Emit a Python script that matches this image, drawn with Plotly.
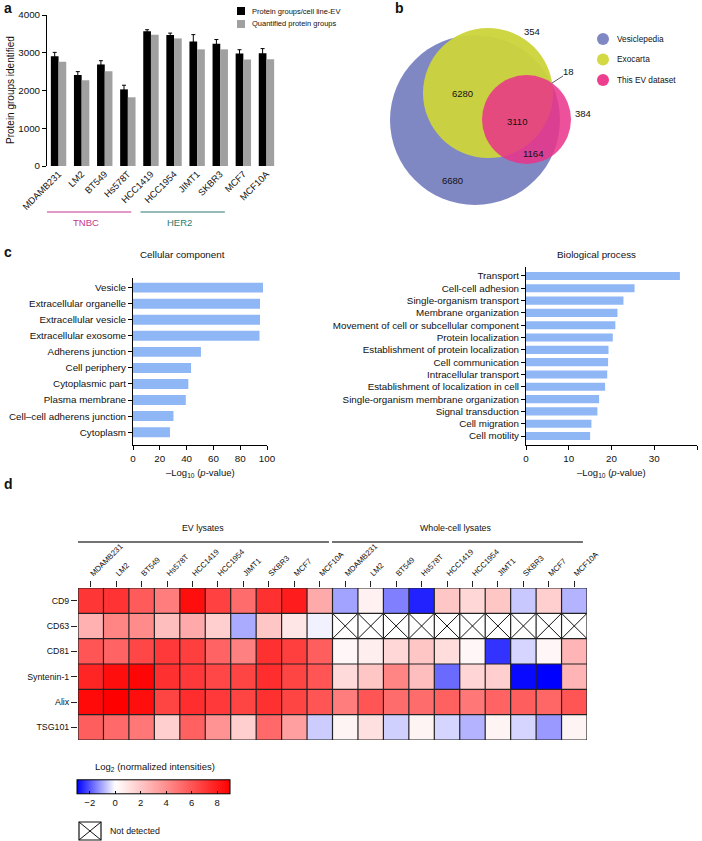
import plotly.graph_objects as go

W, H = 702, 841
def X(px): return px / W
def Y(py): return 1 - py / H

FONT = "Liberation Sans, Arial, sans-serif"

# ---------------- data ----------------
cell_lines = ["MDAMB231", "LM2", "BT549", "Hs578T", "HCC1419", "HCC1954", "JIMT1", "SKBR3", "MCF7", "MCF10A"]
protein_groups = [2910, 2410, 2690, 2030, 3570, 3470, 3300, 3240, 2980, 2990]
protein_groups_err = [100, 90, 100, 110, 40, 50, 180, 110, 100, 120]
quantified_groups = [2760, 2270, 2510, 1820, 3480, 3380, 3090, 3090, 2820, 2830]

venn_sets = ["Vesiclepedia", "Exocarta", "This EV dataset"]
venn_counts = {"V": 6680, "VE": 6280, "E": 354, "VEH": 3110, "VH": 1164, "EH": 18, "H": 384}

cc_terms = ["Vesicle", "Extracellular organelle", "Extracellular vesicle", "Extracellular exosome",
            "Adherens junction", "Cell periphery", "Cytoplasmic part", "Plasma membrane",
            "Cell\u2013cell adherens junction", "Cytoplasm"]
cc_values = [97, 94.8, 94.8, 94.4, 50.7, 43.3, 41.3, 39.4, 30.2, 27.6]

bp_terms = ["Transport", "Cell-cell adhesion", "Single-organism transport", "Membrane organization",
            "Movement of cell or subcellular component", "Protein localization",
            "Establishment of protein localization", "Cell communication", "Intracellular transport",
            "Establishment of localization in cell", "Single-organism membrane organization",
            "Signal transduction", "Cell migration", "Cell motility"]
bp_values = [36.0, 25.4, 22.8, 21.4, 20.9, 20.3, 19.3, 19.2, 19.0, 18.5, 17.1, 16.7, 15.3, 15.0]

markers = ["CD9", "CD63", "CD81", "Syntenin-1", "Alix", "TSG101"]
heat_columns = cell_lines + cell_lines
N = None
heat_values = [
    # EV lysates ........................................... | whole-cell lysates .....................................
    [7.1, 7.2, 5.8, 4.6, 8.5, 6.7, 5.2, 7.3, 8.0, 3.0,   -1.1, 0.5, -1.5, -2.6, 2.0, 1.4, 2.0, -0.65, 1.7, -0.9],
    [2.8, 4.3, 4.1, 2.3, 3.0, 1.7, -1.0, 2.0, 0.9, -0.15, N, N, N, N, N, N, N, N, N, N],
    [6.0, 5.5, 6.5, 7.0, 6.8, 5.5, 4.5, 7.3, 6.8, 5.7,   0.3, 0.6, 1.4, 2.0, 1.2, 0.3, -2.4, -0.5, 0.3, 2.6],
    [7.7, 8.5, 8.8, 7.3, 7.0, 6.5, 6.6, 7.4, 6.6, 6.0,   1.3, 2.0, 4.3, 2.3, -1.75, 1.5, 1.7, -2.9, -3.0, 2.6],
    [8.7, 9.0, 8.5, 6.6, 7.4, 7.0, 6.6, 7.3, 6.6, 6.0,   4.6, 6.0, 5.2, 5.2, 5.6, 4.8, 5.5, 5.7, 5.4, 6.0],
    [5.7, 5.3, 4.8, 1.7, 5.6, 3.8, 1.7, 5.3, 3.4, -0.6,  0.4, 1.1, -0.55, 0.4, -0.5, -0.9, 0.4, -0.5, -1.2, 0.4],
]
cbar_ticks = [-2, 0, 2, 4, 6, 8]

# ---------------- figure ----------------
fig = go.Figure()

# panel a
fig.add_trace(go.Bar(x=list(range(len(cell_lines))), y=protein_groups, name="Protein groups/cell line-EV",
                     marker=dict(color="#000000", line=dict(width=0)),
                     error_y=dict(type="data", array=protein_groups_err, color="#000000", thickness=1, width=2),
                     xaxis="x", yaxis="y", showlegend=False))
fig.add_trace(go.Bar(x=list(range(len(cell_lines))), y=quantified_groups, name="Quantified protein groups",
                     marker=dict(color="#a0a0a0", line=dict(width=0)),
                     xaxis="x", yaxis="y", showlegend=False))

# panel c
fig.add_trace(go.Bar(y=list(range(len(cc_terms))), x=cc_values, orientation="h", width=0.62,
                     marker=dict(color="#8fb6f5", line=dict(width=0)), xaxis="x3", yaxis="y3", showlegend=False))
fig.add_trace(go.Bar(y=list(range(len(bp_terms))), x=bp_values, orientation="h", width=0.66,
                     marker=dict(color="#8fb6f5", line=dict(width=0)), xaxis="x4", yaxis="y4", showlegend=False))

# panel d heatmap
fig.add_trace(go.Heatmap(z=heat_values, x=list(range(len(heat_columns))), y=list(range(len(markers))),
                         zmin=-3, zmax=9,
                         colorscale=[[0, "#0000ff"], [0.25, "#ffffff"], [1, "#ff0000"]],
                         xaxis="x5", yaxis="y5", hoverongaps=False,
                         colorbar=dict(orientation="h", x=X(153.5), xanchor="center", y=Y(796), yanchor="middle",
                                       len=153, lenmode="pixels", thickness=14, thicknessmode="pixels",
                                       xpad=0, ypad=0, outlinewidth=1, outlinecolor="#000",
                                       tickvals=cbar_ticks, ticks="inside", ticklen=3, tickcolor="#000",
                                       tickfont=dict(size=9.5, family=FONT, color="#111"))))

# X marks for not-detected cells (from data)
xs, ys = [], []
for r, row in enumerate(heat_values):
    for c, v in enumerate(row):
        if v is None:
            xs += [c - 0.5, c + 0.5, None, c - 0.5, c + 0.5, None]
            ys += [r - 0.5, r + 0.5, None, r + 0.5, r - 0.5, None]
fig.add_trace(go.Scatter(x=xs, y=ys, mode="lines", line=dict(color="#111", width=1),
                         xaxis="x5", yaxis="y5", showlegend=False, hoverinfo="skip"))

axis_common = dict(showline=True, linecolor="#000", linewidth=1, ticks="outside", ticklen=4, tickwidth=1,
                   tickcolor="#000", showgrid=False, zeroline=False, automargin=False,
                   tickfont=dict(size=9.8, family=FONT, color="#111"))

fig.update_layout(
    template="none",
    width=W, height=H, margin=dict(l=0, r=0, t=0, b=0, pad=0, autoexpand=False),
    paper_bgcolor="white", plot_bgcolor="white",
    font=dict(family=FONT, size=9, color="#111"),
    barmode="group", bargap=0.333, bargroupgap=0,
    xaxis=dict(domain=[X(47), X(278)], range=[-0.5, 9.5], tickvals=list(range(10)), ticktext=cell_lines,
               tickangle=-45, anchor="y",
               **{**axis_common, "showline": False, "ticks": "",
                  "tickfont": dict(size=9.3, family=FONT, color="#111")}),
    yaxis=dict(domain=[Y(166), Y(15)], range=[0, 4000], tickvals=[0, 1000, 2000, 3000, 4000], anchor="x",
               **axis_common),
    xaxis2=dict(domain=[X(380), X(702)], range=[380, 702], visible=False, anchor="y2", automargin=False),
    yaxis2=dict(domain=[Y(215), Y(0)], range=[215, 0], visible=False, anchor="x2", automargin=False),
    xaxis3=dict(domain=[X(133), X(267)], range=[0, 100], tickvals=[0, 20, 40, 60, 80, 100], anchor="y3",
                **axis_common),
    yaxis3=dict(domain=[Y(445), Y(278)], range=[9.8, -0.6], tickvals=list(range(len(cc_terms))),
                ticktext=cc_terms, anchor="x3", **axis_common),
    xaxis4=dict(domain=[X(526), X(697)], range=[0, 40], tickvals=[0, 10, 20, 30, 40], anchor="y4",
                **axis_common),
    yaxis4=dict(domain=[Y(445), Y(267)], range=[13.73, -0.73], tickvals=list(range(len(bp_terms))),
                ticktext=bp_terms, anchor="x4", **axis_common),
    xaxis5=dict(domain=[X(78), X(587)], range=[-0.5, 19.5], side="top", tickvals=list(range(20)),
                ticktext=heat_columns, tickangle=-45, ticks="outside", ticklen=6, tickcolor="#222",
                showline=False, showgrid=False, zeroline=False, anchor="y5", automargin=False,
                tickfont=dict(size=7.8, family=FONT, color="#111")),
    yaxis5=dict(domain=[Y(740), Y(588)], range=[5.5, -0.5], tickvals=list(range(6)), ticktext=markers,
                ticks="outside", ticklen=6, tickcolor="#222", showline=False, showgrid=False, zeroline=False,
                anchor="x5", automargin=False, tickfont=dict(size=8.8, family=FONT, color="#111")),
)

shapes = []
ann = []

def text(x, y, t, size=9, xanchor="center", yanchor="middle", color="#111", angle=0, bold=False):
    ann.append(dict(x=X(x), y=Y(y), xref="paper", yref="paper", text=(f"<b>{t}</b>" if bold else t),
                    showarrow=False, xanchor=xanchor, yanchor=yanchor, textangle=angle,
                    font=dict(size=size, family=FONT, color=color)))

# panel labels
text(2, 8, "a", 14, "left", bold=True)
text(393, 8, "b", 14, "left", bold=True)
text(2, 252, "c", 14, "left", bold=True)
text(2, 484, "d", 14, "left", bold=True)

# panel a extras
text(10, 90, "Protein groups identified", 10, angle=-90)
shapes.append(dict(type="rect", xref="paper", yref="paper", x0=X(237), x1=X(245), y0=Y(15), y1=Y(7),
                   fillcolor="#000", line=dict(width=0)))
text(250, 11, "Protein groups/cell line-EV", 7.5, "left")
shapes.append(dict(type="rect", xref="paper", yref="paper", x0=X(237), x1=X(245), y0=Y(28), y1=Y(20),
                   fillcolor="#a0a0a0", line=dict(width=0)))
text(250, 24, "Quantified protein groups", 7.5, "left")
shapes.append(dict(type="line", xref="x", yref="paper", x0=-0.5, x1=3.15, y0=Y(212), y1=Y(212),
                   line=dict(color="#c8348e", width=1.2)))
text(86, 223, "TNBC", 9.5, color="#c8348e")
shapes.append(dict(type="line", xref="x", yref="paper", x0=3.55, x1=7.2, y0=Y(212), y1=Y(212),
                   line=dict(color="#2b7a70", width=1.2)))
text(180, 223, "HER2", 9.5, color="#2b7a70")

# panel b venn (layout geometry in px units of xaxis2/yaxis2)
def circle(cx, cy, r, color, op):
    shapes.append(dict(type="circle", xref="x2", yref="y2", x0=cx - r, x1=cx + r, y0=cy - r, y1=cy + r,
                       fillcolor=color, opacity=op, line=dict(width=0)))
circle(475, 120, 85, "#8088c4", 1.0)
circle(488, 93, 65, "#ccd43c", 0.96)
circle(526.5, 119.5, 44.5, "#ea3289", 0.85)
text(452, 180, f"{venn_counts['V']}", 9.5)
text(462, 93, f"{venn_counts['VE']}", 9.5)
text(532, 32, f"{venn_counts['E']}", 9.5)
text(517, 121, f"{venn_counts['VEH']}", 9.5)
text(533, 153, f"{venn_counts['VH']}", 9.5)
text(568, 71, f"{venn_counts['EH']}", 9.5)
text(583, 114, f"{venn_counts['H']}", 9.5)
shapes.append(dict(type="line", xref="paper", yref="paper", x0=X(552), y0=Y(83), x1=X(563), y1=Y(76),
                   line=dict(color="#333", width=0.8)))
for i, (name, col) in enumerate(zip(venn_sets, ["#8088c4", "#d2d942", "#ec3f8e"])):
    cy = 39 + i * 20.5
    shapes.append(dict(type="circle", xref="paper", yref="paper", x0=X(597), x1=X(609), y0=Y(cy + 6),
                       y1=Y(cy - 6), fillcolor=col, line=dict(width=0)))
    text(615, cy, name, 8.3, "left")

# panel c titles
text(182, 255, "Cellular component", 9.8)
text(596, 255, "Biological process", 9.8)
text(200, 473, "\u2013Log<sub>10</sub> (<i>p</i>-value)", 9.5)
text(611, 473, "\u2013Log<sub>10</sub> (<i>p</i>-value)", 9.5)

# panel d group headers
text(203, 528, "EV lysates", 8.8)
text(455, 528, "Whole-cell lysates", 8.8)
shapes.append(dict(type="line", xref="x5", yref="paper", x0=-0.58, x1=9.36, y0=Y(542), y1=Y(542),
                   line=dict(color="#444", width=1.3)))
shapes.append(dict(type="line", xref="x5", yref="paper", x0=9.48, x1=19.34, y0=Y(542), y1=Y(542),
                   line=dict(color="#444", width=1.3)))
# heatmap grid
for c in range(len(heat_columns) + 1):
    shapes.append(dict(type="line", xref="x5", yref="y5", x0=c - 0.5, x1=c - 0.5, y0=-0.5, y1=len(markers) - 0.5,
                       line=dict(color="#222", width=1.2)))
for r in range(len(markers) + 1):
    shapes.append(dict(type="line", xref="x5", yref="y5", x0=-0.5, x1=len(heat_columns) - 0.5, y0=r - 0.5, y1=r - 0.5,
                       line=dict(color="#222", width=1.2)))

# colorbar title
text(155, 767, "Log<sub>2</sub> (normalized intensities)", 9.5)

# not-detected key
shapes.append(dict(type="rect", xref="paper", yref="paper", x0=X(79), x1=X(101), y0=Y(840), y1=Y(822),
                   line=dict(color="#111", width=1.2), fillcolor="white"))
shapes.append(dict(type="line", xref="paper", yref="paper", x0=X(79), x1=X(101), y0=Y(840), y1=Y(822),
                   line=dict(color="#111", width=1)))
shapes.append(dict(type="line", xref="paper", yref="paper", x0=X(79), x1=X(101), y0=Y(822), y1=Y(840),
                   line=dict(color="#111", width=1)))
text(108, 831, "Not detected", 8.8, "left")

fig.update_layout(shapes=shapes, annotations=ann)
fig.write_html("out.html", config={"displayModeBar": False},
               post_script="document.body.style.margin='0px';document.body.style.overflow='hidden';")
